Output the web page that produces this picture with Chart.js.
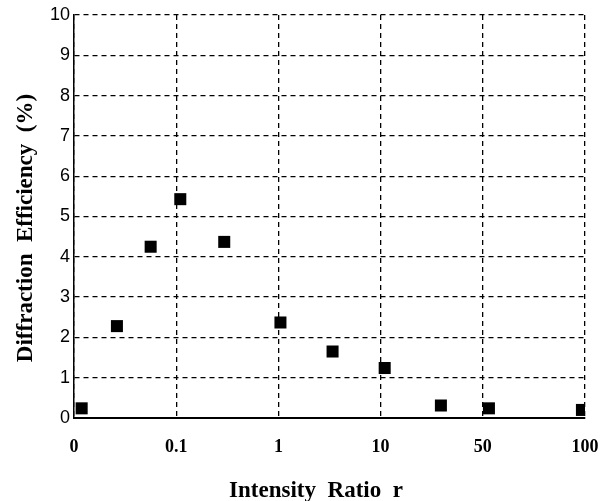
<!DOCTYPE html>
<html>
<head>
<meta charset="utf-8">
<script src="https://cdn.jsdelivr.net/npm/chart.js@4/dist/chart.umd.min.js"></script>
<style>
  html, body { margin: 0; padding: 0; background: #fff; }
  #wrap { width: 612px; height: 501px; }
</style>
</head>
<body>
<div id="wrap"><canvas id="chart" width="612" height="501"></canvas></div>
<script>
// x tick labels sit on evenly spaced positions 0..5
const tickLabels = ["0", "0.1", "1", "10", "50", "100"];
// marker positions along that axis
const ratioPos = [0.075, 0.42, 0.75, 1.04, 1.47, 2.02, 2.53, 3.04, 3.59, 4.06, 4.97];
const efficiency = [0.24, 2.28, 4.25, 5.43, 4.37, 2.37, 1.65, 1.24, 0.31, 0.24, 0.2];

const xTitle = "Intensity  Ratio  r";
const yTitle = "Diffraction  Efficiency  (%)";

const points = ratioPos.map((x, i) => ({ x, y: efficiency[i] }));

const gridStyle = {
  color: "#000",
  lineWidth: 1.3,
  drawTicks: false,
};

// axis titles in the original sit a bit off the plot centre, so draw them by hand
const axisTitles = {
  id: "axisTitles",
  afterDraw(chart) {
    const { ctx } = chart;
    ctx.save();
    ctx.fillStyle = "#000";
    ctx.font = "bold 23px 'Liberation Serif'";
    ctx.textAlign = "center";
    ctx.textBaseline = "alphabetic";
    ctx.fillText(xTitle, 316, 497);
    ctx.translate(32, 228);
    ctx.rotate(-Math.PI / 2);
    ctx.fillText(yTitle, 0, 0);
    ctx.restore();
  },
};

new Chart(document.getElementById("chart"), {
  type: "scatter",
  data: {
    datasets: [{
      data: points,
      pointStyle: "rect",
      pointRadius: 8.5,
      pointHoverRadius: 8.5,
      backgroundColor: "#000",
      borderColor: "#000",
      borderWidth: 0,
    }],
  },
  options: {
    responsive: false,
    animation: false,
    layout: { padding: { top: 15, right: 27, left: 0, bottom: 0 } },
    plugins: { legend: { display: false }, tooltip: { enabled: false } },
    scales: {
      x: {
        type: "linear",
        min: 0,
        max: 5,
        afterFit: (s) => { s.height = 83; s.paddingRight = 0; },
        grid: gridStyle,
        border: { display: true, color: "#000", width: 2, dash: [5, 4] },
        ticks: {
          stepSize: 1,
          padding: 19,
          color: "#000",
          font: { family: "Liberation Serif", size: 18, weight: "bold" },
          callback: (v) => tickLabels[v] ?? "",
        },
      },
      y: {
        min: 0,
        max: 10,
        afterFit: (s) => { s.width = 74; },
        grid: gridStyle,
        border: { display: true, color: "#000", width: 1.5, dash: [5, 4] },
        ticks: {
          stepSize: 1,
          padding: 4,
          color: "#000",
          font: { family: "Liberation Sans", size: 18 },
        },
      },
    },
  },
  plugins: [axisTitles],
});
</script>
</body>
</html>
